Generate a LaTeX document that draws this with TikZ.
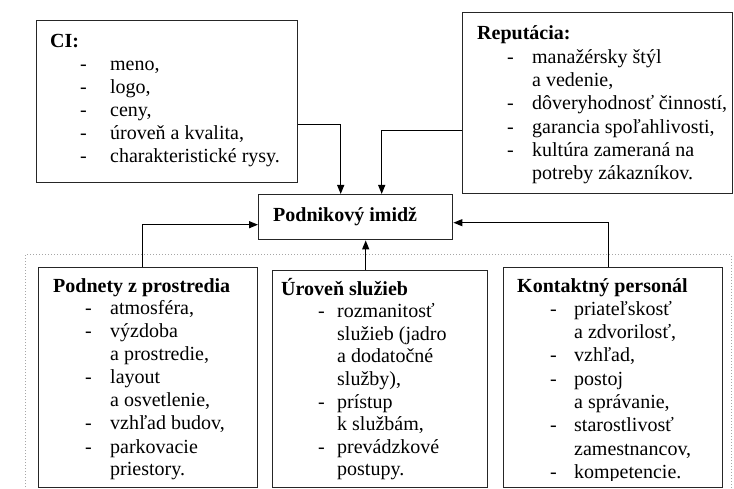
\documentclass[tikz,border=0pt]{standalone}
\usepackage{fontspec}
\setmainfont{Liberation Serif}
\usetikzlibrary{arrows.meta}

% one bulleted line: dash at #1, text at #2 (both relative to the heading)
\newcommand{\dl}[3]{\hspace*{#1pt}\makebox[\dimexpr #2pt-#1pt\relax][l]{-}#3}
% continuation line of an item, aligned with the item text
\newcommand{\cl}[2]{\hspace*{#1pt}#2}

\tikzset{
  panel/.style={draw=black!85, line width=1.4pt, inner sep=0pt, anchor=north west},
  body/.style={anchor=base west, inner sep=0pt},
  link/.style={draw=black, line width=1.2pt},
  tolink/.style={link, -{Triangle[length=9pt,width=7pt]}},
}

\begin{document}
\begin{tikzpicture}[x=1pt,y=-1pt]
\useasboundingbox (0,0) rectangle (734,489);
\fill[white] (0,0) rectangle (734,489);

% dotted frame around the three lower panels
\draw[gray!70, line width=1pt, dotted] (25,520) -- (25,255) -- (731,255) -- (731,520);

% panels
\node[panel, minimum width=261pt, minimum height=162pt] (ci) at (36,20) {};
\node[panel, minimum width=270pt, minimum height=181pt] (rep) at (462,12) {};
\node[panel, minimum width=194pt, minimum height=45pt] (imidz) at (258,194) {};
\node[panel, minimum width=219pt, minimum height=220pt] (podn) at (38,267) {};
\node[panel, minimum width=215pt, minimum height=217pt] (urov) at (272,270) {};
\node[panel, minimum width=219pt, minimum height=220pt] (kont) at (503,267) {};

% panel texts
\node[body] (citext) at (50,48) {\parbox[t]{240pt}{\fontsize{20}{23}\selectfont
\textbf{CI:}\\
\dl{30}{60}{meno,}\\
\dl{30}{60}{logo,}\\
\dl{30}{60}{ceny,}\\
\dl{30}{60}{úroveň a kvalita,}\\
\dl{30}{60}{charakteristické rysy.}}};

\node[body] (reptext) at (477,40) {\parbox[t]{250pt}{\fontsize{20}{23.3}\selectfont
\textbf{Reputácia:}\\
\dl{30}{55}{manažérsky štýl}\\
\cl{55}{a vedenie,}\\
\dl{30}{55}{dôveryhodnosť činností,}\\
\dl{30}{55}{garancia spoľahlivosti,}\\
\dl{30}{55}{kultúra zameraná na}\\
\cl{55}{potreby zákazníkov.}}};

\node[body] (imidztext) at (273,222) {\fontsize{20}{23}\selectfont\textbf{Podnikový imidž}};

% the lower panel texts run down to the bottom frame and are cut off there
\begin{scope}
\clip (30,260) rectangle (734,480.5);
\node[body] (podntext) at (53,292) {\parbox[t]{200pt}{\fontsize{20}{23}\selectfont
\textbf{Podnety z prostredia}\\
\dl{32}{57}{atmosféra,}\\
\dl{32}{57}{výzdoba}\\
\cl{57}{a prostredie,}\\
\dl{32}{57}{layout}\\
\cl{57}{a osvetlenie,}\\
\dl{32}{57}{vzhľad budov,}\\
\dl{32}{57}{parkovacie}\\
\cl{57}{priestory.}}};

\node[body] (urovtext) at (281,295) {\parbox[t]{200pt}{\fontsize{20}{22.6}\selectfont
\textbf{Úroveň služieb}\\
\dl{37}{56}{rozmanitosť}\\
\cl{56}{služieb (jadro}\\
\cl{56}{a dodatočné}\\
\cl{56}{služby),}\\
\dl{37}{56}{prístup}\\
\cl{56}{k službám,}\\
\dl{37}{56}{prevádzkové}\\
\cl{56}{postupy.}}};

\node[body] (konttext) at (517,292) {\parbox[t]{200pt}{\fontsize{20}{23.3}\selectfont
\textbf{Kontaktný personál}\\
\dl{33}{57}{priateľskosť}\\
\cl{57}{a zdvorilosť,}\\
\dl{33}{57}{vzhľad,}\\
\dl{33}{57}{postoj}\\
\cl{57}{a správanie,}\\
\dl{33}{57}{starostlivosť}\\
\cl{57}{zamestnancov,}\\
\dl{33}{57}{kompetencie.}}};
\end{scope}

% connectors into the central box
\coordinate (ciout) at ([yshift=-23pt]ci.east);
\coordinate (repout) at ([yshift=-27.5pt]rep.west);
\coordinate (urovin) at ([xshift=10pt]imidz.south);
\draw[tolink] (ciout) -| ([xshift=-15pt]imidz.north);
\draw[tolink] (repout) -| ([xshift=26pt]imidz.north);
\draw[tolink] ([xshift=-5.5pt]podn.north) |- ([yshift=-7.5pt]imidz.west);
\draw[tolink] (urov.north -| urovin) -- (urovin);
\draw[tolink] ([xshift=-4.5pt]kont.north) |- ([yshift=-5.5pt]imidz.east);
\end{tikzpicture}
\end{document}
